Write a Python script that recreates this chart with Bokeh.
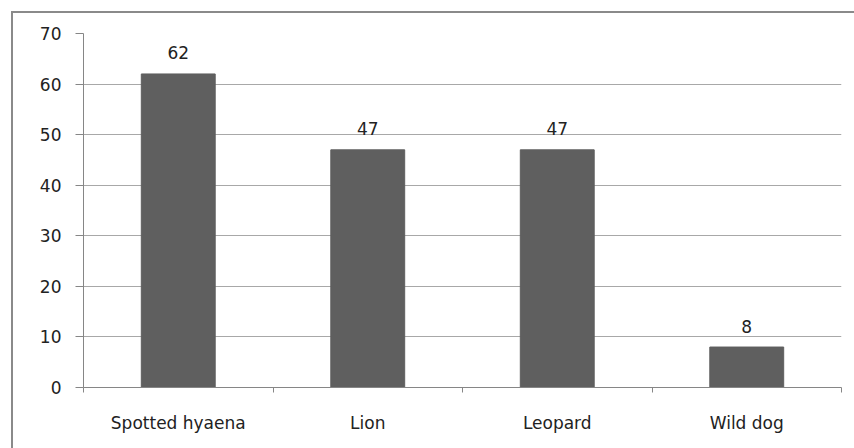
from bokeh.plotting import figure
from bokeh.models import FixedTicker, ColumnDataSource, Range1d
from bokeh.core.properties import value
from bokeh.embed import file_html
from bokeh.resources import INLINE

categories = ["Spotted hyaena", "Lion", "Leopard", "Wild dog"]
counts = [62, 47, 47, 8]
y_ticks = [0, 10, 20, 30, 40, 50, 60, 70]

xs = [i + 0.5 for i in range(len(categories))]
src = ColumnDataSource(dict(x=xs, top=counts, label=[str(c) for c in counts]))

FONT = "DejaVu Sans"
FS = "17px"

p = figure(width=843, height=437, margin=(11, 0, 0, 11),
           output_backend="svg", toolbar_location=None,
           x_range=Range1d(0, len(categories)), y_range=Range1d(0, 70),
           min_border_left=70, min_border_right=15, min_border_top=20, min_border_bottom=63,
           styles={"border-left": "2px solid #8a8a8a", "border-top": "2px solid #8a8a8a"})
p.outline_line_color = None
p.background_fill_color = "white"
p.border_fill_color = "white"

p.vbar(x="x", top="top", width=0.39, source=src, fill_color="#5f5f5f", line_color="#5f5f5f")
p.text(x="x", y="top", text="label", source=src, text_align="center", text_baseline="alphabetic",
       y_offset=-21, text_font=value(FONT), text_font_size=FS, text_color="#222222")

p.xgrid.grid_line_color = None
p.ygrid.grid_line_color = "#a8a8a8"
p.ygrid.ticker = FixedTicker(ticks=y_ticks)

xa = p.xaxis[0]
xa.ticker = FixedTicker(ticks=xs, minor_ticks=list(range(len(categories) + 1)))
xa.major_label_overrides = {x: c for x, c in zip(xs, categories)}
xa.major_tick_out = 0
xa.major_tick_in = 0
xa.minor_tick_out = 5
xa.minor_tick_in = 0
xa.minor_tick_line_color = "#868686"
xa.axis_line_color = "#868686"
xa.major_label_text_font = FONT
xa.major_label_text_font_size = FS
xa.major_label_text_color = "#222222"
xa.major_label_standoff = 20

ya = p.yaxis[0]
ya.ticker = FixedTicker(ticks=y_ticks)
ya.major_tick_out = 8
ya.major_tick_in = 0
ya.minor_tick_line_color = None
ya.major_tick_line_color = "#868686"
ya.axis_line_color = "#868686"
ya.major_label_text_font = FONT
ya.major_label_text_font_size = FS
ya.major_label_text_color = "#222222"
ya.major_label_standoff = 14

open("out.html", "w").write(file_html(p, INLINE))
